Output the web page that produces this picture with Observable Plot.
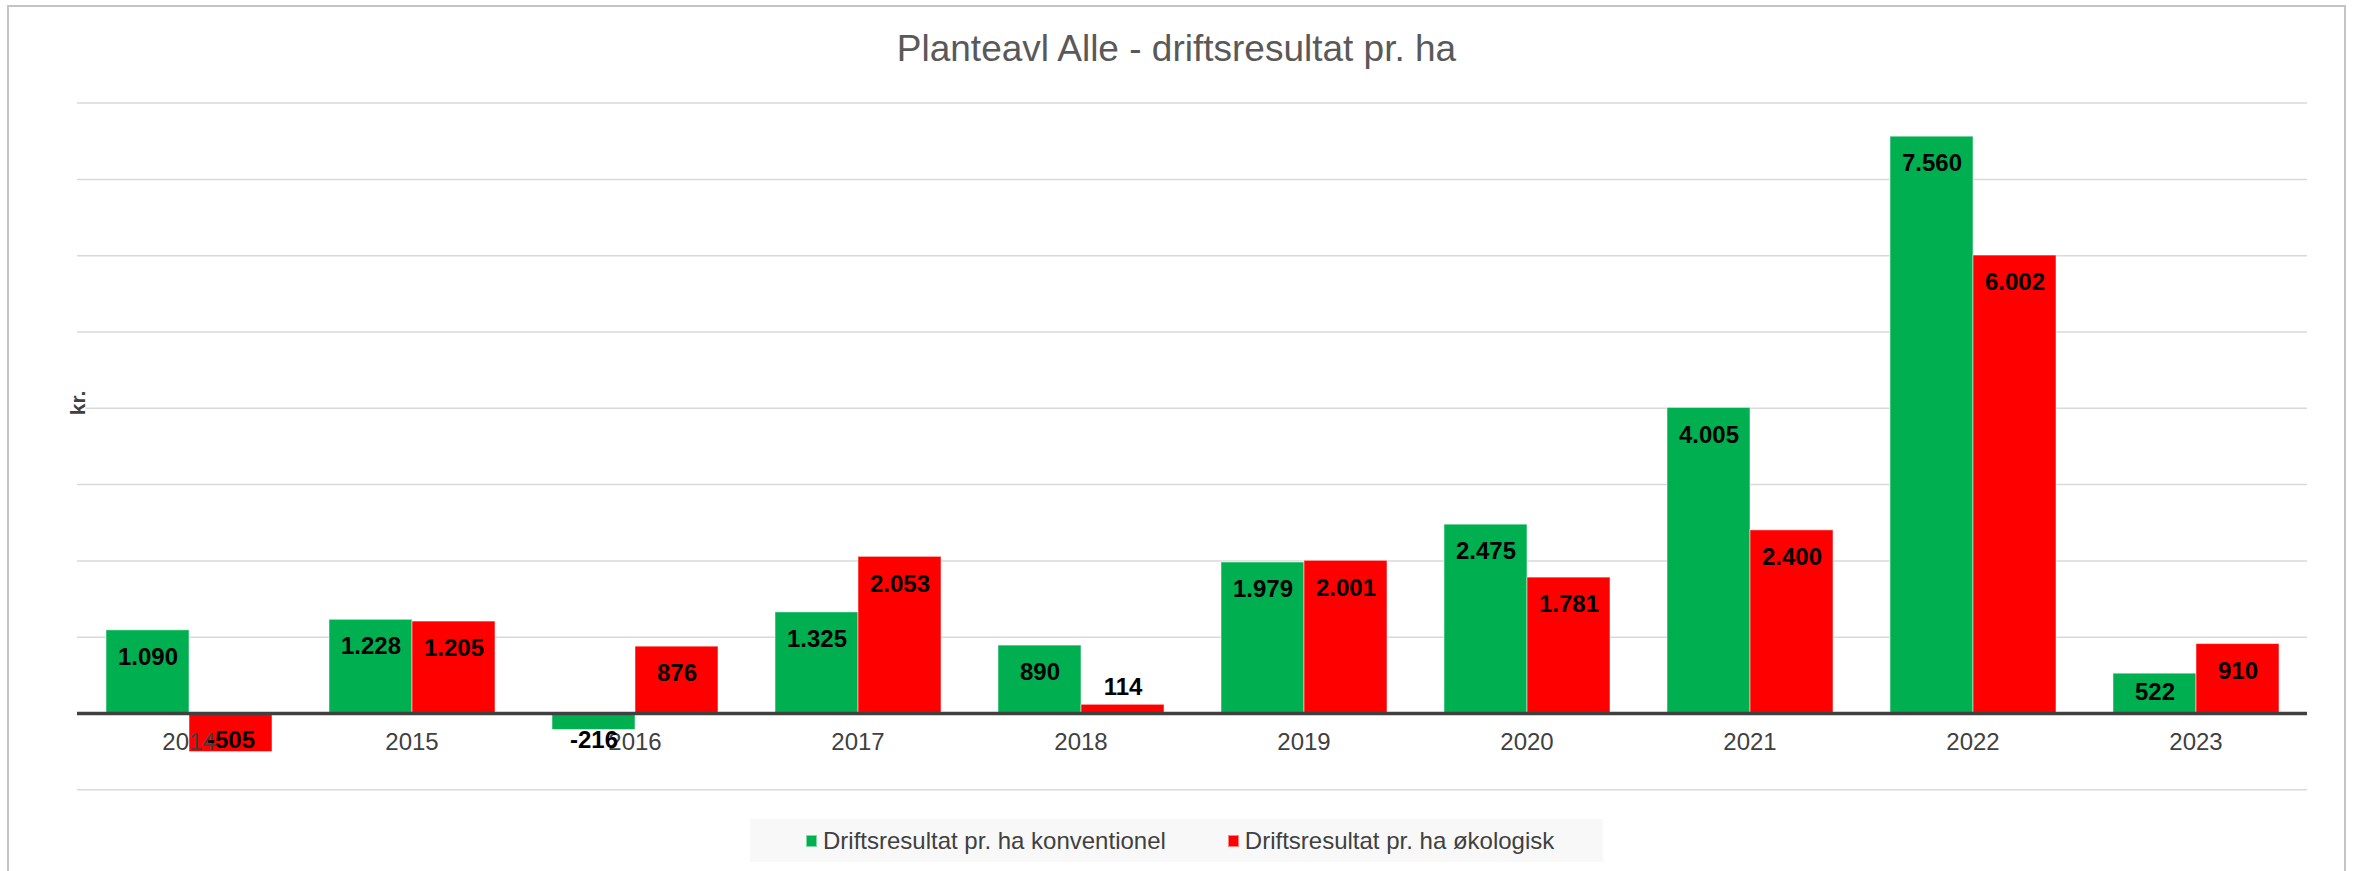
<!DOCTYPE html>
<html>
<head>
<meta charset="utf-8">
<script src="https://cdn.jsdelivr.net/npm/d3@7"></script>
<script src="https://cdn.jsdelivr.net/npm/@observablehq/plot@0.6"></script>
<style>
  html, body { margin: 0; padding: 0; background: #fff; width: 2354px; height: 871px; overflow: hidden;
    font-family: "Liberation Sans", Arial, sans-serif; }
  #frame { position: absolute; left: 7px; top: 5px; width: 2339px; height: 1000px;
    border: 2px solid #c4c4c4; box-sizing: border-box; }
  #title { position: absolute; left: 0; top: 30px; width: 2353px; text-align: center;
    font-size: 37px; line-height: 37px; color: #595959; white-space: nowrap; }
  #chart { position: absolute; left: 0; top: 90px; }
  #ylabel { position: absolute; left: 77px; top: 403px; transform: translate(-50%, -50%) rotate(-90deg);
    font-weight: bold; font-size: 21px; line-height: 17px; color: #404040; background: #fff; padding: 0 2px; white-space: nowrap; }
  #legend { position: absolute; left: 750px; top: 819px; width: 853px; height: 43px; background: #f8f8f8;
    display: flex; align-items: center; box-sizing: border-box; padding-left: 56px; }
  .item { display: flex; align-items: center; font-size: 24px; line-height: 24px; color: #404040; white-space: nowrap; }
  .item + .item { margin-left: 62px; }
  .sw { width: 11px; height: 12px; box-sizing: border-box; margin-right: 6px; }
</style>
</head>
<body>
<div id="frame"></div>
<div id="title">Planteavl Alle - driftsresultat pr. ha</div>
<div id="chart"></div>
<div id="ylabel">kr.</div>
<div id="legend"></div>
<script>
// ---- data ----
const years = ["2014", "2015", "2016", "2017", "2018", "2019", "2020", "2021", "2022", "2023"];
const seriesNames = ["Driftsresultat pr. ha konventionel", "Driftsresultat pr. ha økologisk"];
const konventionel = [1090, 1228, -216, 1325, 890, 1979, 2475, 4005, 7560, 522];
const oekologisk = [-505, 1205, 876, 2053, 114, 2001, 1781, 2400, 6002, 910];
const yTicks = [-1000, 0, 1000, 2000, 3000, 4000, 5000, 6000, 7000, 8000];
const seriesColors = ["#00B050", "#FF0000"];
const swatchBorders = ["#80d8a8", "#ff8080"];

// ---- table ----
const rows = years.flatMap((yr, i) => [
  {year: yr, series: seriesNames[0], value: konventionel[i]},
  {year: yr, series: seriesNames[1], value: oekologisk[i]}
]);

const fmt = d3.formatLocale({decimal: ",", thousands: ".", grouping: [3], currency: ["", " kr."], minus: "-"}).format(",");

const inside = rows.filter(d => d.value >= 700);
const middle = rows.filter(d => d.value >= 300 && d.value < 700);
const outside = rows.filter(d => d.value >= 0 && d.value < 300);
const negative = rows.filter(d => d.value < 0);

const lbl = {fx: "year", x: "series", text: d => fmt(d.value), fontSize: 24, fontWeight: "bold",
  fill: "#000", lineAnchor: "middle", textAnchor: "middle"};

const chart = Plot.plot({
  width: 2354,
  height: 709.3,
  marginLeft: 74,
  marginRight: 44,
  marginTop: 12.6,
  marginBottom: 10,
  fx: {domain: years, padding: 0, axis: null, label: null},
  x: {domain: seriesNames, paddingInner: 0, paddingOuter: 0.33, axis: null, label: null},
  y: {domain: [-1000, 8000], axis: null, label: null},
  color: {domain: seriesNames, range: seriesColors},
  style: {fontFamily: "Liberation Sans, Arial, sans-serif", background: "transparent", overflow: "visible"},
  marks: [
    Plot.ruleY(yTicks.filter(t => t !== 0), {stroke: "#d9d9d9", strokeOpacity: 1, strokeWidth: 1.5}),
    Plot.barY(rows, {fx: "year", x: "series", y: "value", fill: "series",
      stroke: "#ffffff", strokeOpacity: 0.5, strokeWidth: 1}),
    Plot.ruleY([0], {stroke: "#404040", strokeWidth: 3.5}),
    Plot.text(years, {fx: d => d, y: () => 0, text: d => d, dy: 29, fontSize: 24, fill: "#404040",
      lineAnchor: "middle", textAnchor: "middle"}),
    Plot.text(inside, {...lbl, y: "value", dy: 27}),
    Plot.text(middle, {...lbl, y: d => d.value / 2, dy: -1}),
    Plot.text(outside, {...lbl, y: "value", dy: -17}),
    Plot.text(negative, {...lbl, y: () => 0, dy: 27})
  ]
});
document.getElementById("chart").appendChild(chart);

// ---- legend ----
const legend = document.getElementById("legend");
seriesNames.forEach((name, i) => {
  const item = document.createElement("div");
  item.className = "item";
  const sw = document.createElement("div");
  sw.className = "sw";
  sw.style.background = seriesColors[i];
  sw.style.border = "1px solid " + swatchBorders[i];
  const tx = document.createElement("span");
  tx.textContent = name;
  item.appendChild(sw);
  item.appendChild(tx);
  legend.appendChild(item);
});
</script>
</body>
</html>
